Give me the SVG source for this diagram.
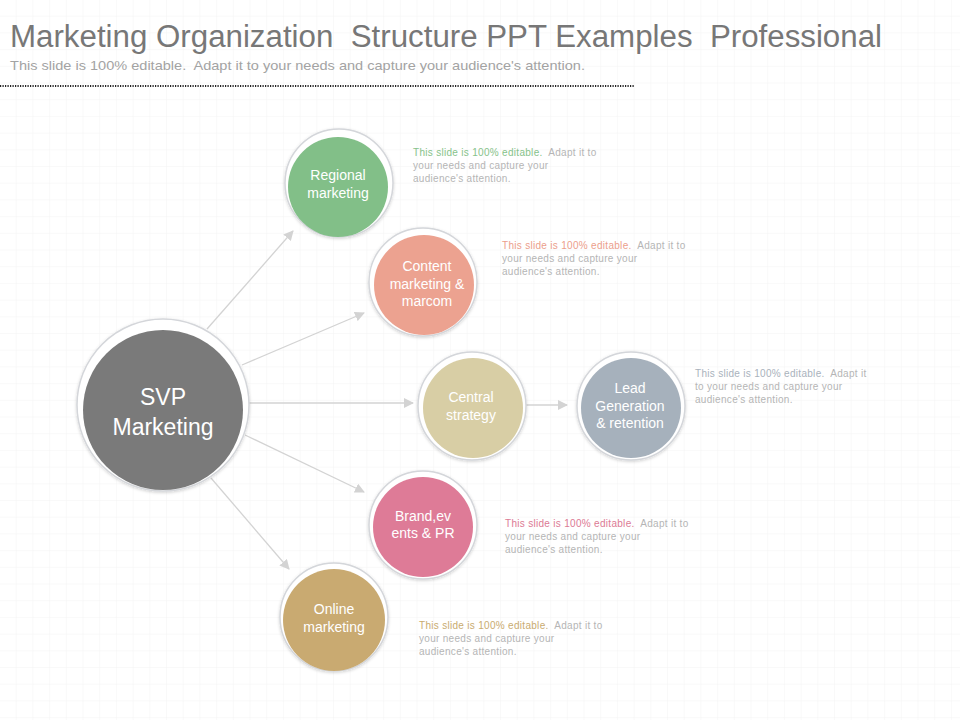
<svg xmlns="http://www.w3.org/2000/svg" width="960" height="720" viewBox="0 0 960 720">
<defs>
<pattern id="grid" width="16.7" height="16.7" patternUnits="userSpaceOnUse">
<path d="M16.7 0V16.7M0 16.7H16.7" fill="none" stroke="#f3f3f3" stroke-width="1"/>
</pattern>
<marker id="ah" markerWidth="10" markerHeight="10" refX="9" refY="5" orient="auto" markerUnits="userSpaceOnUse">
<path d="M0 0L10 5L0 10z" fill="#d3d3d3"/>
</marker>
<filter id="sh" x="-20%" y="-20%" width="140%" height="140%">
<feDropShadow dx="0" dy="1" stdDeviation="1.5" flood-color="#000" flood-opacity="0.18"/>
</filter>
</defs>
<style>
text{white-space:pre}
.ring{fill:#fff;stroke:#d4d6da;stroke-width:1.5;filter:url(#sh)}
.lbl{font-family:"Liberation Sans",Arial,sans-serif;font-size:14px;fill:#fff;text-anchor:middle}
.big{font-size:23px}
.desc{font-family:"Liberation Sans",Arial,sans-serif;font-size:10px;letter-spacing:0.3px;fill:#b5b5b5}
.conn line{stroke:#d3d3d3;stroke-width:1.3;marker-end:url(#ah)}
</style>
<rect width="960" height="720" fill="#fff"/>
<rect width="960" height="720" fill="url(#grid)"/>
<text x="10" y="47" font-family="Liberation Sans,Arial,sans-serif" font-size="31" fill="#777" textLength="872" lengthAdjust="spacingAndGlyphs">Marketing Organization  Structure PPT Examples  Professional</text>
<text x="10" y="70" font-family="Liberation Sans,Arial,sans-serif" font-size="13.5" fill="#a3a3a3" textLength="575" lengthAdjust="spacingAndGlyphs">This slide is 100% editable.  Adapt it to your needs and capture your audience's attention.</text>
<line x1="0" y1="86" x2="634" y2="86" stroke="#222" stroke-width="2" stroke-dasharray="1.2 1.3"/>

<g id="connectors" class="conn">
<line x1="207" y1="329" x2="293" y2="231"/>
<line x1="242" y1="365" x2="364" y2="313"/>
<line x1="249" y1="403" x2="413" y2="403"/>
<line x1="245" y1="435" x2="364" y2="492"/>
<line x1="211" y1="478" x2="289" y2="569"/>
<line x1="526" y1="405" x2="567" y2="405"/>
</g>

<g id="svp">
<circle class="ring" cx="163" cy="405" r="86"/>
<circle cx="163" cy="410" r="80" fill="#7a7a7a"/>
<text class="lbl big" x="163" y="405">SVP</text>
<text class="lbl big" x="163" y="435">Marketing</text>
</g>

<g id="regional">
<circle class="ring" cx="339" cy="183" r="54"/>
<circle cx="338" cy="187" r="50" fill="#82bf88"/>
<text class="lbl" x="338" y="180">Regional</text>
<text class="lbl" x="338" y="198">marketing</text>
<text class="desc" x="413" y="156"><tspan fill="#86c28a">This slide is 100% editable.</tspan>  Adapt it to</text>
<text class="desc" x="413" y="169">your needs and capture your</text>
<text class="desc" x="413" y="182">audience's attention.</text>
</g>

<g id="content">
<circle class="ring" cx="423" cy="282" r="54"/>
<circle cx="424" cy="285" r="50" fill="#eca290"/>
<text class="lbl" x="427" y="271">Content</text>
<text class="lbl" x="427" y="289">marketing &amp;</text>
<text class="lbl" x="427" y="306">marcom</text>
<text class="desc" x="502" y="249"><tspan fill="#ec9e8b">This slide is 100% editable.</tspan>  Adapt it to</text>
<text class="desc" x="502" y="262">your needs and capture your</text>
<text class="desc" x="502" y="275">audience's attention.</text>
</g>

<g id="central">
<circle class="ring" cx="472" cy="406" r="54"/>
<circle cx="473" cy="408" r="50" fill="#d8cea5"/>
<text class="lbl" x="471" y="402">Central</text>
<text class="lbl" x="471" y="420">strategy</text>
</g>

<g id="lead">
<circle class="ring" cx="631" cy="406" r="54"/>
<circle cx="631" cy="408" r="50" fill="#a6b1bc"/>
<text class="lbl" x="630" y="393">Lead</text>
<text class="lbl" x="630" y="411">Generation</text>
<text class="lbl" x="630" y="428">&amp; retention</text>
<text class="desc" x="695" y="377"><tspan fill="#a9b2bc">This slide is 100% editable.</tspan>  Adapt it</text>
<text class="desc" x="695" y="390">to your needs and capture your</text>
<text class="desc" x="695" y="403">audience's attention.</text>
</g>

<g id="brand">
<circle class="ring" cx="423" cy="525" r="54"/>
<circle cx="423" cy="527" r="50" fill="#de7b97"/>
<text class="lbl" x="423" y="521">Brand,ev</text>
<text class="lbl" x="423" y="538">ents &amp; PR</text>
<text class="desc" x="505" y="527"><tspan fill="#dc7a94">This slide is 100% editable.</tspan>  Adapt it to</text>
<text class="desc" x="505" y="540">your needs and capture your</text>
<text class="desc" x="505" y="553">audience's attention.</text>
</g>

<g id="online">
<circle class="ring" cx="334" cy="617" r="54"/>
<circle cx="334" cy="620" r="51" fill="#c9aa71"/>
<text class="lbl" x="334" y="614">Online</text>
<text class="lbl" x="334" y="632">marketing</text>
<text class="desc" x="419" y="629"><tspan fill="#c9ab6f">This slide is 100% editable.</tspan>  Adapt it to</text>
<text class="desc" x="419" y="642">your needs and capture your</text>
<text class="desc" x="419" y="655">audience's attention.</text>
</g>
</svg>
